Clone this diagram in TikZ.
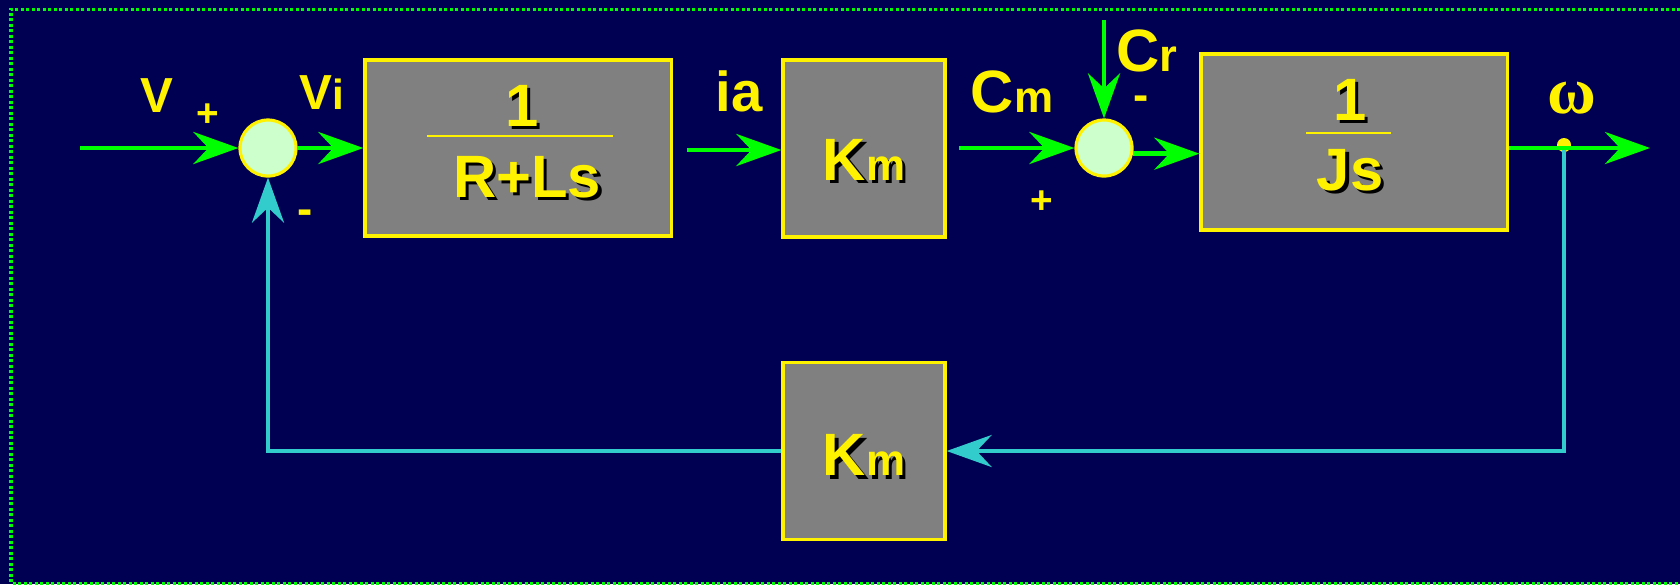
\documentclass[tikz,border=0pt]{standalone}
\usepackage{fontspec}
\setmainfont{Liberation Sans}
\newfontfamily\omegafont{Liberation Serif}
\usepackage{tikz}
\usetikzlibrary{shapes,arrows.meta}

\definecolor{bgnavy}{RGB}{0,0,82}
\definecolor{siggreen}{RGB}{0,255,0}
\definecolor{fbcyan}{RGB}{51,204,204}
\definecolor{boxgray}{RGB}{128,128,128}
\definecolor{sumfill}{RGB}{204,255,204}

\newcommand{\lo}[1]{{\fontsize{12.5}{15}\selectfont #1}}
\newcommand{\shtxt}[1]{\rlap{\kern1pt\raisebox{-1pt}{\color{black}#1}}#1}

\begin{document}
\begin{tikzpicture}[x=0.01cm,y=-0.01cm,
    block/.style={draw=yellow,line width=0.9pt,fill=boxgray,inner sep=0pt},
    kbox/.style={block,minimum width=1.62cm,minimum height=1.77cm,text=yellow,
        font=\bfseries\fontsize{17}{20}\selectfont,text depth=0pt},
    sumnode/.style={circle,draw=yellow,line width=0.9pt,fill=sumfill,
        minimum size=0.56cm,inner sep=0pt},
    sig/.style={siggreen,line width=1.4pt,
        -{Stealth[length=4.5mm,width=3.2mm,inset=1.5mm]}},
    fb/.style={fbcyan,line width=1.3pt,
        -{Stealth[length=4.5mm,width=3.2mm,inset=1.5mm]}},
    lbl/.style={text=yellow,font=\bfseries\fontsize{17}{20}\selectfont,
        inner sep=0pt,anchor=base},
    sgn/.style={text=yellow,font=\bfseries\fontsize{11}{13}\selectfont,inner sep=0pt},
    boxtxt/.style={text=yellow,font=\bfseries\fontsize{17}{20}\selectfont,
        inner sep=0pt,anchor=base}]
    \pgfmathsetmacro{\ymain}{148}
    \pgfmathsetmacro{\xtap}{1564}
    % Background and frame
    \useasboundingbox (0,0) rectangle (1680,584);
    \fill [bgnavy] (0,0) rectangle (1680,584);
    \draw [siggreen,line width=0.03cm,dash pattern=on 0.03cm off 0.025cm]
        (1680,9) -- (11,9) -- (11,583) -- (1680,583);

    % Blocks and summing points
    \node [sumnode] (sum1) at (268,\ymain) {};
    \node [sumnode] (sum2) at (1104,\ymain) {};
    \node [block,minimum width=3.06cm,minimum height=1.76cm] (box1) at (518,148) {};
    \node [kbox,text height=18pt] (box2) at (864,148.5) {\shtxt{K\lo{m}}};
    \node [block,minimum width=3.06cm,minimum height=1.76cm] (box3) at (1354,142) {};
    \node [kbox,text height=14pt] (box4) at (864,451) {\shtxt{K\lo{m}}};

    % Fractions
    \node [boxtxt] (num1) at (522,126) {\shtxt{1}};
    \draw [yellow,line width=0.8pt] (427,136) -- (613,136);
    \node [boxtxt] (den1) at (527,197) {\shtxt{R+Ls}};
    \node [boxtxt] (num3) at (1350,120) {\shtxt{1}};
    \draw [yellow,line width=0.8pt] (1306,133) -- (1391,133);
    \node [boxtxt] (den3) at (1350,190) {\shtxt{Js}};

    % Signal ends
    \coordinate (vin) at (80,\ymain);
    \coordinate (ia0) at (687,150);
    \coordinate (cm0) at (959,\ymain);
    \coordinate (cr0) at (1104,20);
    \coordinate (tap) at (\xtap,\ymain);
    \coordinate (wout) at (1650,\ymain);

    % Feedback path
    \fill [yellow] (\xtap,145) circle (7);
    \draw [fb] (tap) |- (box4.east);
    \draw [fb] (box4.west) -| (sum1.south);

    % Forward path
    \draw [sig] (vin) -- (sum1.west);
    \draw [sig] (sum1.east) -- (box1.west);
    \draw [sig] (ia0) -- (ia0 -| box2.west);
    \draw [sig] (cm0) -- (sum2.west);
    \draw [sig] (cr0) -- (sum2.north);
    \draw [sig] (sum2.-11) -- (sum2.-11 -| box3.west);
    \draw [sig] (box3.east |- tap) -- (wout);

    % Labels
    \node [lbl] (lv) at (157,112) {\fontsize{14}{16}\selectfont V};
    \node [lbl] (lvi) at (322,109) {\fontsize{14}{16}\selectfont V\fontsize{12}{14}\selectfont i};
    \node [lbl,font=\bfseries\fontsize{16}{19}\selectfont] (lia) at (739,111) {ia};
    \node [lbl] (lcm) at (1012,112) {C\lo{m}};
    \node [lbl] (lcr) at (1147,71) {C{\fontsize{13}{15}\selectfont r}};
    \node [lbl,font=\omegafont\bfseries\fontsize{19}{22}\selectfont] (lw) at (1572,113) {ω};
    \node [sgn] (p1) at (208,115) {+};
    \node [sgn,font=\bfseries\fontsize{13}{15}\selectfont] (m1) at (305,217) {-};
    \node [sgn] (p2) at (1042,202) {+};
    \node [sgn,font=\bfseries\fontsize{13}{15}\selectfont] (m2) at (1141,103) {-};
\end{tikzpicture}
\end{document}
